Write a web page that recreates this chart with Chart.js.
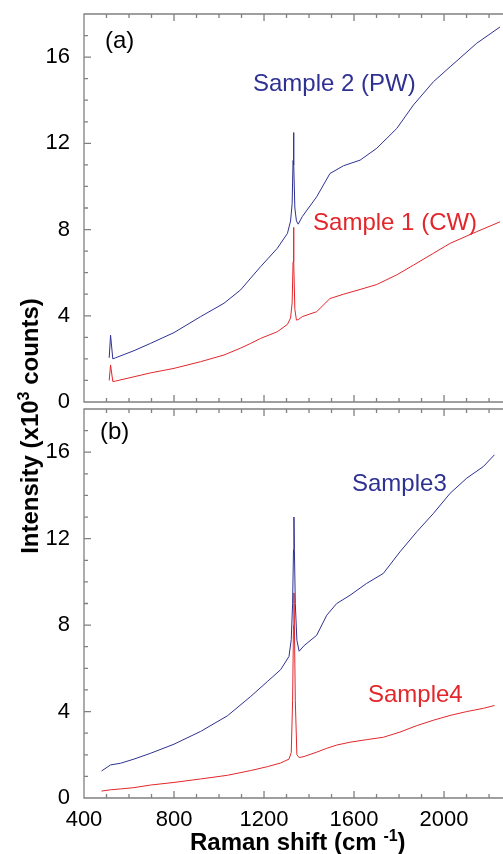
<!DOCTYPE html>
<html>
<head>
<meta charset="utf-8">
<script src="https://cdn.jsdelivr.net/npm/chart.js@4.4.1/dist/chart.umd.min.js"></script>
<style>
  body { margin:0; background:#fff; }
  #wrap { position:relative; width:503px; height:854px; overflow:hidden; font-family:"Liberation Sans", Arial, sans-serif; }
  canvas { position:absolute; left:0; top:0; }
  .ttl { position:absolute; font-weight:bold; font-size:24px; line-height:24px; color:#000; white-space:nowrap; }
  .ttl sup { font-size:16px; line-height:0; }
</style>
</head>
<body>
<div id="wrap">
  <canvas id="chartA" width="503" height="854"></canvas>
  <canvas id="chartB" width="503" height="854"></canvas>
  <div class="ttl" id="ytitle" style="left:-120px; top:414px; width:300px; text-align:center; transform:rotate(-90deg);">Intensity (x10<sup>3</sup> counts)</div>
  <div class="ttl" id="xtitle" style="left:190px; top:830px;">Raman shift (cm <sup>-1</sup>)</div>
</div>
<script>
// panel (a)
var shiftA = [512, 518, 528, 540, 622, 696, 800, 918, 1022, 1096, 1141, 1185, 1259, 1304, 1318, 1325, 1329, 1331, 1333, 1337, 1344, 1352, 1370, 1434, 1493, 1553, 1627, 1701, 1790, 1864, 1953, 2027, 2145, 2249];
var sample2 = [2.05, 3.1, 2.0, 2.05, 2.38, 2.72, 3.22, 3.96, 4.58, 5.2, 5.75, 6.28, 7.13, 7.82, 8.4, 9.2, 11.2, 12.5, 11.0, 9.0, 8.4, 8.25, 8.6, 9.52, 10.6, 10.96, 11.22, 11.77, 12.69, 13.78, 14.86, 15.55, 16.64, 17.4];
var sample1 = [1.0, 1.72, 0.95, 0.97, 1.17, 1.35, 1.56, 1.87, 2.18, 2.5, 2.72, 2.95, 3.26, 3.6, 3.9, 4.6, 6.5, 8.1, 6.5, 4.3, 3.8, 3.82, 3.96, 4.19, 4.8, 5.0, 5.22, 5.45, 5.9, 6.35, 6.9, 7.36, 7.9, 8.36];
// panel (b)
var shiftB = [478, 518, 563, 622, 696, 800, 918, 1037, 1141, 1215, 1274, 1311, 1321, 1327, 1331, 1333, 1335, 1339, 1346, 1356, 1378, 1434, 1479, 1523, 1582, 1656, 1730, 1804, 1879, 1953, 2027, 2101, 2175, 2224];
var sample3 = [1.25, 1.53, 1.61, 1.8, 2.07, 2.49, 3.08, 3.8, 4.7, 5.39, 5.94, 6.55, 7.33, 9.0, 11.5, 13.0, 11.5, 9.0, 7.3, 6.79, 7.05, 7.53, 8.46, 9.0, 9.38, 9.93, 10.39, 11.39, 12.32, 13.17, 14.1, 14.8, 15.34, 15.88];
var sample4 = [0.32, 0.38, 0.42, 0.48, 0.6, 0.72, 0.88, 1.05, 1.27, 1.45, 1.62, 1.8, 2.1, 4.5, 8.0, 9.49, 8.0, 4.5, 2.0, 1.87, 1.92, 2.12, 2.3, 2.45, 2.58, 2.7, 2.81, 3.05, 3.35, 3.6, 3.82, 4.0, 4.15, 4.28];

var xTicks = [400, 800, 1200, 1600, 2000];
var yTicks = [0, 4, 8, 12, 16];

var BLUE = '#2e3192';
var RED = '#e3262b';
var AXIS = '#808080';

Chart.defaults.font.family = '"Liberation Sans", Arial, sans-serif';
Chart.defaults.color = '#000';

function pts(xs, ys) {
  return xs.map(function (v, i) { return {x: v, y: ys[i]}; });
}

// inward ticks + frame
var frame = {
  id: 'frame',
  afterDraw: function (chart) {
    var ctx = chart.ctx, a = chart.chartArea, x = chart.scales.x, y = chart.scales.y;
    ctx.save();
    ctx.strokeStyle = AXIS;
    ctx.lineWidth = 1.3;
    ctx.beginPath();
    ctx.moveTo(a.right + 2, a.top); ctx.lineTo(a.left, a.top);
    ctx.lineTo(a.left, a.bottom); ctx.lineTo(a.right + 2, a.bottom);
    for (var v = 400; v <= 2200; v += 100) {
      var len = v % 400 === 0 ? 7 : 4;
      var px = x.getPixelForValue(v);
      ctx.moveTo(px, a.bottom); ctx.lineTo(px, a.bottom - len);
      ctx.moveTo(px, a.top); ctx.lineTo(px, a.top + len);
    }
    for (var k = 0; k <= 18; k++) {
      var l2 = k % 4 === 0 ? 7 : 4;
      var py = y.getPixelForValue(k);
      ctx.moveTo(a.left, py); ctx.lineTo(a.left + l2, py);
    }
    ctx.stroke();
    ctx.restore();
  }
};

// text labels placed in data coordinates
var notes = {
  id: 'notes',
  afterDatasetsDraw: function (chart, args, opts) {
    var ctx = chart.ctx, x = chart.scales.x, y = chart.scales.y;
    ctx.save();
    ctx.font = '24px "Liberation Sans", Arial, sans-serif';
    ctx.textBaseline = 'alphabetic';
    ctx.textAlign = 'left';
    opts.items.forEach(function (it) {
      ctx.fillStyle = it.color;
      ctx.fillText(it.text, x.getPixelForValue(it.x), y.getPixelForValue(it.y));
    });
    ctx.restore();
  }
};

function makeChart(id, sets, pad, showX, items) {
  return new Chart(document.getElementById(id), {
    type: 'line',
    data: {
      datasets: sets.map(function (s) {
        return {data: s.data, borderColor: s.color, borderWidth: 1, pointRadius: 0, tension: 0, fill: false};
      })
    },
    options: {
      responsive: false,
      animation: false,
      layout: {padding: pad},
      plugins: {legend: {display: false}, tooltip: {enabled: false}, notes: {items: items}},
      scales: {
        x: {
          type: 'linear', min: 400, max: 2262,
          grid: {display: false}, border: {display: false},
          ticks: {display: showX, font: {size: 22}, padding: 1, maxRotation: 0,
                  callback: function (v) { return String(v); }},
          afterBuildTicks: function (s) { s.ticks = xTicks.map(function (v) { return {value: v}; }); },
          afterFit: function (s) { s.height = showX ? 56 : 0; s.paddingLeft = 0; s.paddingRight = 0; }
        },
        y: {
          min: 0, max: 18,
          grid: {display: false}, border: {display: false},
          ticks: {font: {size: 22}, padding: 6, callback: function (v) { return String(v); }},
          afterBuildTicks: function (s) { s.ticks = yTicks.map(function (v) { return {value: v}; }); },
          afterFit: function (s) { s.width = 84; s.paddingTop = 0; s.paddingBottom = 0; }
        }
      }
    },
    plugins: [frame, notes]
  });
}

makeChart('chartA',
  [{data: pts(shiftA, sample2), color: BLUE}, {data: pts(shiftA, sample1), color: RED}],
  {top: 14, bottom: 452, left: 0, right: 0}, false,
  [{text: '(a)', x: 493, y: 16.42, color: '#000'},
   {text: 'Sample 2 (PW)', x: 1151, y: 14.42, color: BLUE},
   {text: 'Sample 1 (CW)', x: 1418, y: 7.98, color: RED}]);

makeChart('chartB',
  [{data: pts(shiftB, sample3), color: BLUE}, {data: pts(shiftB, sample4), color: RED}],
  {top: 409, bottom: 0, left: 0, right: 0}, true,
  [{text: '(b)', x: 471, y: 16.6, color: '#000'},
   {text: 'Sample3', x: 1591, y: 14.2, color: BLUE},
   {text: 'Sample4', x: 1662, y: 4.45, color: RED}]);
</script>
</body>
</html>
